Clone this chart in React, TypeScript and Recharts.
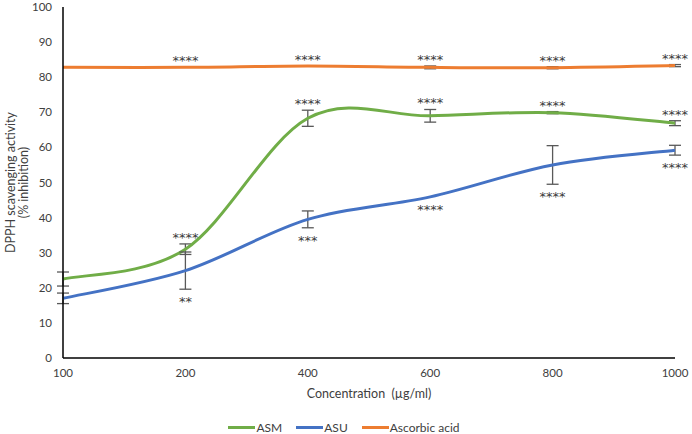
import React from 'react';
import { LineChart, Line, XAxis, YAxis, ErrorBar, LabelList, Legend } from 'recharts';

// Concentration (µg/ml) categories
const concentrations = ['100', '200', '400', '600', '800', '1000'];

// DPPH scavenging activity (% inhibition)
const asm = [22.5, 31, 68.3, 69, 69.9, 66.9];
const asmErr = [2, 1.5, 2.3, 1.8, 0.3, 0.7];
const asu = [17, 24.9, 39.5, 45.9, 55, 59.2];
const asuErr = [1.5, 5.3, 2.4, 0, 5.5, 1.4];
const ascorbic = [82.8, 82.8, 83.2, 82.8, 82.7, 83.3];
const ascorbicErr = [0, 0, 0, 0.4, 0.3, 0.3];

// significance marks
const asmSig = ['', '****', '****', '****', '****', '****'];
const asuSig = ['', '**', '***', '****', '****', '****'];
const ascorbicSig = ['', '****', '****', '****', '****', '****'];

const yTicks = [0, 10, 20, 30, 40, 50, 60, 70, 80, 90, 100];

const GREEN = '#70AD47';
const BLUE = '#4472C4';
const ORANGE = '#ED7D31';
const TEXT = '#404040';

const W = 692;
const H = 434;
const MARGIN = { top: 7, right: 17, left: 0, bottom: 0 };
const Y_AXIS_W = 63;
const X_AXIS_H = 56;
const LEGEND_H = 20;
const PLOT_H = H - MARGIN.top - MARGIN.bottom - X_AXIS_H - LEGEND_H;
const PX_PER_UNIT = PLOT_H / 100;

const data = concentrations.map((c, i) => ({
  conc: c,
  asm: asm[i],
  asmErr: asmErr[i],
  asmSig: asmSig[i],
  asu: asu[i],
  asuErr: asuErr[i],
  asuSig: asuSig[i],
  ascorbic: ascorbic[i],
  ascorbicErr: ascorbicErr[i],
  ascorbicSig: ascorbicSig[i],
}));

// Excel-like smoothed line (Catmull-Rom through the points)
const excelCurve = (context: any) => {
  let pts: number[][] = [];
  return {
    areaStart() {},
    areaEnd() {},
    lineStart() {
      pts = [];
    },
    lineEnd() {
      if (!pts.length) return;
      context.moveTo(pts[0][0], pts[0][1]);
      for (let i = 0; i < pts.length - 1; i++) {
        const p0 = pts[i - 1] || pts[i];
        const p1 = pts[i];
        const p2 = pts[i + 1];
        const p3 = pts[i + 2] || p2;
        context.bezierCurveTo(
          p1[0] + (p2[0] - p0[0]) / 6,
          p1[1] + (p2[1] - p0[1]) / 6,
          p2[0] - (p3[0] - p1[0]) / 6,
          p2[1] - (p3[1] - p1[1]) / 6,
          p2[0],
          p2[1]
        );
      }
    },
    point(x: number, y: number) {
      pts.push([+x, +y]);
    },
  };
};

const sigLabel = (errs: number[], side: 'above' | 'below', gap: number) => (props: any) => {
  const { x, y, value, index } = props;
  if (!value) return null;
  const errPx = (errs[index] || 0) * PX_PER_UNIT;
  const cy = side === 'above' ? y - errPx - gap : y + errPx + gap;
  return (
    <text
      x={x}
      y={cy + 3.5}
      textAnchor="middle"
      dominantBaseline="central"
      fontFamily="DejaVu Sans"
      fontSize={13}
      fill="#3a3a3a"
    >
      {value}
    </text>
  );
};

const YLabel = (props: any) => {
  const vb = props.viewBox;
  const cy = vb.y + vb.height / 2;
  const x1 = vb.x + 10;
  const x2 = vb.x + 23;
  return (
    <g fill={TEXT} fontSize={12.5}>
      <text x={x1} y={cy} textAnchor="middle" dominantBaseline="central" transform={`rotate(-90, ${x1}, ${cy})`}>
        DPPH scavenging activity
      </text>
      <text x={x2} y={cy} textAnchor="middle" dominantBaseline="central" transform={`rotate(-90, ${x2}, ${cy})`}>
        (% inhibition)
      </text>
    </g>
  );
};

const XLabel = (props: any) => {
  const vb = props.viewBox;
  const cx = vb.x + vb.width / 2;
  return (
    <text x={cx} y={vb.y + 35} textAnchor="middle" dominantBaseline="central" fill={TEXT} fontSize={12.5} style={{ whiteSpace: 'pre' }}>
      {'Concentration  (µg/ml)'}
    </text>
  );
};

const legendItems = [
  { name: 'ASM', color: GREEN },
  { name: 'ASU', color: BLUE },
  { name: 'Ascorbic acid', color: ORANGE },
];

const LegendContent = () => (
  <div
    style={{
      height: LEGEND_H,
      boxSizing: 'border-box',
      paddingTop: 7,
      paddingLeft: 13,
      display: 'flex',
      justifyContent: 'center',
      gap: 14,
      fontSize: 12,
      lineHeight: '13px',
      color: TEXT,
    }}
  >
    {legendItems.map((it) => (
      <div key={it.name} style={{ display: 'flex', alignItems: 'center' }}>
        <span style={{ display: 'inline-block', width: 27, height: 3, background: it.color, marginRight: 1 }} />
        <span>{it.name}</span>
      </div>
    ))}
  </div>
);

export default function App() {
  return (
    <div style={{ position: 'absolute', left: 0, top: 0, width: W, height: H, background: '#fff', fontFamily: 'Lato' }}>
      <LineChart width={W} height={H} data={data} margin={MARGIN}>
        <XAxis
          dataKey="conc"
          height={X_AXIS_H}
          tickLine={false}
          tickMargin={5}
          axisLine={{ stroke: '#000', strokeWidth: 1.5 }}
          tick={{ fill: TEXT, fontSize: 11.5 }}
          interval={0}
          label={XLabel}
        />
        <YAxis
          width={Y_AXIS_W}
          domain={[0, 100]}
          ticks={yTicks}
          interval={0}
          tickLine={false}
          tickMargin={5}
          axisLine={{ stroke: '#000', strokeWidth: 1.5 }}
          tick={{ fill: TEXT, fontSize: 11.5 }}
          label={YLabel}
        />
        <Legend verticalAlign="bottom" content={LegendContent} />
        <Line dataKey="ascorbic" name="Ascorbic acid" type={excelCurve as any} stroke={ORANGE} strokeWidth={3} dot={false} activeDot={false} isAnimationActive={false}>
          <ErrorBar dataKey="ascorbicErr" direction="y" width={6} stroke="#595959" strokeWidth={1.3} isAnimationActive={false} />
          <LabelList dataKey="ascorbicSig" content={sigLabel(ascorbicErr, 'above', 10)} />
        </Line>
        <Line dataKey="asm" name="ASM" type={excelCurve as any} stroke={GREEN} strokeWidth={3} dot={false} activeDot={false} isAnimationActive={false}>
          <ErrorBar dataKey="asmErr" direction="y" width={6} stroke="#595959" strokeWidth={1.3} isAnimationActive={false} />
          <LabelList dataKey="asmSig" content={sigLabel(asmErr, 'above', 10)} />
        </Line>
        <Line dataKey="asu" name="ASU" type={excelCurve as any} stroke={BLUE} strokeWidth={3} dot={false} activeDot={false} isAnimationActive={false}>
          <ErrorBar dataKey="asuErr" direction="y" width={6} stroke="#595959" strokeWidth={1.3} isAnimationActive={false} />
          <LabelList dataKey="asuSig" content={sigLabel(asuErr, 'below', 9)} />
        </Line>
      </LineChart>
    </div>
  );
}
